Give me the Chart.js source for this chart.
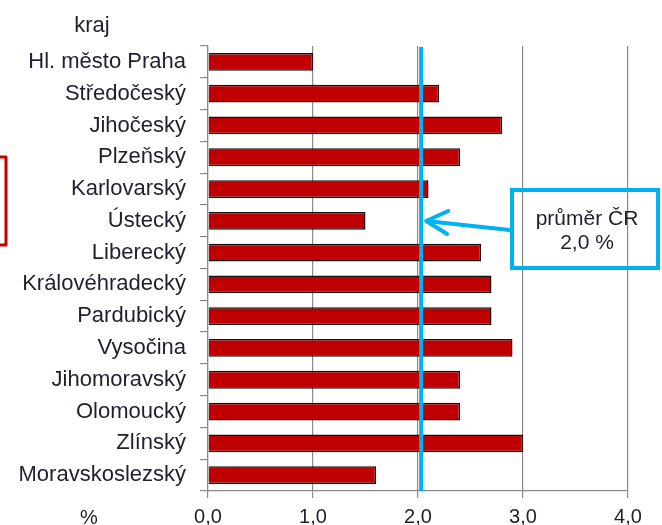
<!DOCTYPE html>
<html>
<head>
<meta charset="utf-8">
<script src="https://cdn.jsdelivr.net/npm/chart.js@4"></script>
<style>
  html, body { margin: 0; padding: 0; background: #fff; }
  #wrap { width: 662px; height: 525px; position: relative; }
</style>
</head>
<body>
<div id="wrap"><canvas id="barChart"></canvas></div>
<script>
const regions = ['Hl. město Praha', 'Středočeský', 'Jihočeský', 'Plzeňský', 'Karlovarský', 'Ústecký',
  'Liberecký', 'Královéhradecký', 'Pardubický', 'Vysočina', 'Jihomoravský', 'Olomoucký', 'Zlínský', 'Moravskoslezský'];
const values = [1.0, 2.2, 2.8, 2.4, 2.1, 1.5, 2.6, 2.7, 2.7, 2.9, 2.4, 2.4, 3.0, 1.6];
const average = 2.03;
const xTicks = [0, 1, 2, 3, 4];
const avgLabel = ['průměr ČR', '2,0 %'];

const FONT = '"Liberation Sans", Arial, sans-serif';
const BLUE = '#00B0F0';
const TEXT = '#1f1f2e';

// average line, callout box and the loose labels
const extras = {
  id: 'extras',
  afterDatasetsDraw(chart) {
    const ctx = chart.ctx;
    const x = chart.scales.x;
    const area = chart.chartArea;
    const ax = x.getPixelForValue(average);

    ctx.save();
    ctx.strokeStyle = BLUE;
    ctx.lineWidth = 4;
    ctx.beginPath();
    ctx.moveTo(ax, area.top + 1);
    ctx.lineTo(ax, area.bottom);
    ctx.stroke();

    // callout box
    ctx.lineWidth = 4;
    ctx.strokeRect(512, 190, 146, 78);

    // arrow
    ctx.lineCap = 'round';
    ctx.lineJoin = 'round';
    ctx.beginPath();
    ctx.moveTo(510, 230);
    ctx.lineTo(ax + 5, 221);
    ctx.moveTo(ax + 27, 211);
    ctx.lineTo(ax + 5, 221);
    ctx.lineTo(ax + 26, 234);
    ctx.stroke();

    ctx.fillStyle = TEXT;
    ctx.font = '21px ' + FONT;
    ctx.textAlign = 'center';
    ctx.textBaseline = 'middle';
    ctx.fillText(avgLabel[0], 587, 219);
    ctx.fillText(avgLabel[1], 587, 243);

    ctx.font = '22px ' + FONT;
    ctx.fillText('kraj', 92, 26);
    ctx.font = '20px ' + FONT;
    ctx.fillText('%', 89, 518);

    // partial red frame at the left edge
    ctx.strokeStyle = '#C00000';
    ctx.lineWidth = 3;
    ctx.strokeRect(-20, 157, 26, 88);
    ctx.restore();
  }
};

new Chart(document.getElementById('barChart'), {
  type: 'bar',
  data: {
    labels: regions,
    datasets: [{
      data: values,
      backgroundColor: '#C00000',
      borderColor: '#111',
      borderWidth: 1.5,
      borderSkipped: 'start',
      categoryPercentage: 1,
      barPercentage: 0.56
    }]
  },
  options: {
    indexAxis: 'y',
    responsive: true,
    maintainAspectRatio: false,
    animation: false,
    layout: { padding: { top: 46, right: 34, bottom: 0, left: 0 } },
    scales: {
      x: {
        min: 0,
        max: 4,
        afterFit: s => { s.height = 34; },
        afterBuildTicks: s => { s.ticks = xTicks.map(v => ({ value: v })); },
        ticks: {
          color: TEXT,
          font: { family: FONT, size: 20 },
          padding: 7,
          callback: v => v.toFixed(1).replace('.', ',')
        },
        grid: { color: '#8a8a8a', lineWidth: 1.2, tickLength: 7 },
        border: { color: '#8a8a8a', width: 1.2 }
      },
      y: {
        afterFit: s => { s.width = 208; },
        ticks: {
          color: TEXT,
          font: { family: FONT, size: 22 },
          padding: 14,
          autoSkip: false
        },
        grid: { drawOnChartArea: false, color: '#8a8a8a', lineWidth: 1.2, tickLength: 8 },
        border: { color: '#8a8a8a', width: 1.2 }
      }
    },
    plugins: {
      legend: { display: false },
      tooltip: { enabled: false }
    }
  },
  plugins: [extras]
});
</script>
</body>
</html>
